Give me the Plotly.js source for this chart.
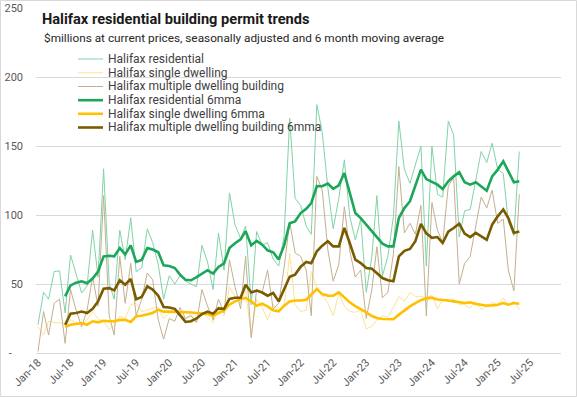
<!DOCTYPE html>
<html>
<head>
<meta charset="utf-8">
<script src="https://cdn.plot.ly/plotly-3.0.1.min.js"></script>
<style>
html,body{margin:0;padding:0;background:#fff;}
#chart{width:577px;height:397px;}
</style>
</head>
<body>
<div id="chart"></div>
<script>
var months = [
'2018-01-01','2018-02-01','2018-03-01','2018-04-01','2018-05-01','2018-06-01','2018-07-01','2018-08-01','2018-09-01','2018-10-01','2018-11-01','2018-12-01',
'2019-01-01','2019-02-01','2019-03-01','2019-04-01','2019-05-01','2019-06-01','2019-07-01','2019-08-01','2019-09-01','2019-10-01','2019-11-01','2019-12-01',
'2020-01-01','2020-02-01','2020-03-01','2020-04-01','2020-05-01','2020-06-01','2020-07-01','2020-08-01','2020-09-01','2020-10-01','2020-11-01','2020-12-01',
'2021-01-01','2021-02-01','2021-03-01','2021-04-01','2021-05-01','2021-06-01','2021-07-01','2021-08-01','2021-09-01','2021-10-01','2021-11-01','2021-12-01',
'2022-01-01','2022-02-01','2022-03-01','2022-04-01','2022-05-01','2022-06-01','2022-07-01','2022-08-01','2022-09-01','2022-10-01','2022-11-01','2022-12-01',
'2023-01-01','2023-02-01','2023-03-01','2023-04-01','2023-05-01','2023-06-01','2023-07-01','2023-08-01','2023-09-01','2023-10-01','2023-11-01','2023-12-01',
'2024-01-01','2024-02-01','2024-03-01','2024-04-01','2024-05-01','2024-06-01','2024-07-01','2024-08-01','2024-09-01','2024-10-01','2024-11-01','2024-12-01',
'2025-01-01','2025-02-01','2025-03-01','2025-04-01','2025-05-01'
];

var residential = [
20.5,44,39,59,59.5,29,71,57,43.5,48.5,89,55,
133.5,50.5,39,89,67.6,98,59,61.6,90,80,64,39,
56,50,56,52,50,48,78,66,46,87,60,116,
93,83,92,35,88,78,80,68,63,85,170,112,
107,92,86,180,160,120,90,112,140,99,82,97,
44,70,114,56,70,99,168,133,123,136,150,63,
150,115,113,168,158,84,103,104,126,146,138,152,
133,130,95,85,146
];
var single = [
19,13,23,22,22,20.5,24,22,20.5,24,30,25,
23,17,20,26.6,25,35,36,30,31.4,32.6,33,25,
29,30,29,25,28,23,29,26,22,34,27,48,
41,36,46,12,39,33,24,35,31,34,72,35,
30,31,59,48,42,36,27,43,34,30,29.5,31,
17.4,19.3,24,27,26,33,41,37.4,44,41,41,40,
42,32,38.6,37.4,39,35,35,32.6,37.4,31.4,33.8,36.7,
35,39.9,34.3,37.4,31.4
];
var multiple = [
1,30,13,36,39,7,46,31,19,31,55,34,
114,27,13,70,36,65,27,39,58,53,24,10,
25,23,33,25,27,22,46,34,24,39,29,67.6,
48,32,70,11,46,44,60,32,36,62,95,72.5,
70,60,27,128,118,75,52,64,106,74,55,60,
25,46,77,40,44,72,135,87,94,86,107,27,
109,89,80,121,127,50,65,70,92,113,105,118,
94,97,60,45,115
];
var residentialMA = [
null,null,null,null,null,41,49,51,52,50.5,54,59,
70,70.5,70,76,71.5,78,66,67.5,76,75,73,63.5,
63,61.6,56.8,53,52.7,55,57.5,60,57.5,62.3,65,76,
79.5,82.3,88.3,78,81.2,78.5,74.4,73,67.8,78,94,95.4,
101.4,104.5,108.7,121,120.8,122.7,119,121.5,130.4,116,101.4,97.8,
93,88,83.3,79.2,77.3,77.3,97.8,105,110,120.8,132.9,126,
124,122,118.8,124.4,128,131,123.7,122,123.7,120.8,117.6,128,
132.9,138.9,131.6,123.7,124.4
];
var singleMA = [
null,null,null,null,null,19,20.5,21,21.7,20.5,23,22.2,
23.4,23,23,24,24,22.5,26.6,27,27.8,29,31.4,30,
30,30,29.8,29.5,29.3,29,28.5,28.3,27,29,31,35,
37.4,39,40,37.4,34.3,35.7,33.8,31,30.2,34.3,37.4,38,
38,38.6,42.3,46.4,42.7,41.6,41.5,44,40.3,36.7,34,32,
29.4,26.8,25.4,24.6,24.5,24.5,27.8,31,33.8,36.2,38.3,39.6,
40.1,38.8,38.6,38,37.4,37,36.2,36.7,35.5,35,34.3,34.5,
35,36.2,35,36.2,35.7
];
var multipleMA = [
null,null,null,null,null,20.5,28.5,29,30,29,32,37.4,
46.6,47,45.4,52.7,49.5,53.6,39,40.6,48.3,46,41.5,33.3,
33,32,27.5,22.5,23,25,28.2,30,28.5,32.3,32,39.2,
40,40,49.5,43.8,45.2,43.8,41.5,43.5,37.4,46.7,55.2,56.8,
62.5,66,65,73.7,77.8,81,77.3,77.3,90.6,79.7,67.6,65.2,
61.6,61,58,54.3,52.7,52,70,74,75.4,81,93.5,86.7,
83.5,84,79.7,88,90.6,93.7,86.5,84,87,84.5,82,93,
99,104,97.8,87,88
];
var seriesNames = [
'Halifax residential',
'Halifax single dwelling',
'Halifax multiple dwelling building',
'Halifax residential 6mma',
'Halifax single dwelling 6mma',
'Halifax multiple dwelling building 6mma'
];
var tickDates = ['2018-01-01','2018-07-01','2019-01-01','2019-07-01','2020-01-01','2020-07-01','2021-01-01','2021-07-01','2022-01-01','2022-07-01','2023-01-01','2023-07-01','2024-01-01','2024-07-01','2025-01-01','2025-07-01'];
var tickLabels = ['Jan-18','Jul-18','Jan-19','Jul-19','Jan-20','Jul-20','Jan-21','Jul-21','Jan-22','Jul-22','Jan-23','Jul-23','Jan-24','Jul-24','Jan-25','Jul-25'];
var yTicks = [0,50,100,150,200,250];
var yLabels = ['-\u2002\u2002','50','100','150','200','250'];

var values = [residential, single, multiple, residentialMA, singleMA, multipleMA];
var colors = ['#80d3a6','#fde397','#c2b08e','#1ba65a','#ffc000','#7a5c00'];
var widths = [1,1,1,2.6,2.6,2.6];

var FONT = '"Liberation Sans Narrow", "Roboto", "Liberation Sans", sans-serif';

var traces = values.map(function(v,k){
  return {x: months, y: v, type:'scatter', mode:'lines', name: seriesNames[k],
    line:{color: colors[k], width: widths[k]}, connectgaps:false, showlegend:false, hoverinfo:'x+y'};
});

// legend (drawn as layout items)
var L = 36, PW = 525, T = 8, PH = 345;
function px2x(p){ return (p - L)/PW; }
function py2y(p){ return (T + PH - p)/PH; }
var legendRows = [59, 72.8, 86.5, 100.2, 113.8, 127.5];
var shapes = [];
var annotations = [];
seriesNames.forEach(function(n,k){
  var yy = py2y(legendRows[k]);
  shapes.push({type:'line', xref:'paper', yref:'paper', x0:px2x(78), x1:px2x(103), y0:yy, y1:yy,
    line:{color:colors[k], width: widths[k]===1?1:2.6}});
  annotations.push({xref:'paper', yref:'paper', x:px2x(106), y:yy, xanchor:'left', yanchor:'middle',
    text:n, showarrow:false, font:{family:FONT, size:12, color:'#404040'}});
});
annotations.push({xref:'paper', yref:'paper', x:px2x(42), y:py2y(38.5), xanchor:'left', yanchor:'middle',
  text:'$millions at current prices, seasonally adjusted and 6 month moving average', showarrow:false,
  font:{family:FONT, size:11.8, color:'#262626'}});
// outer border
shapes.push({type:'rect', xref:'paper', yref:'paper', x0:px2x(0.5), x1:px2x(576.5), y0:py2y(396.5), y1:py2y(0.5),
  line:{color:'#d9d9d9', width:1}, fillcolor:'rgba(0,0,0,0)'});

var layout = {
  width:577, height:397,
  margin:{l:L, r:577-L-PW, t:T, b:397-T-PH},
  paper_bgcolor:'#ffffff', plot_bgcolor:'#ffffff',
  font:{family:FONT, size:11, color:'#595959'},
  title:{text:'<b>Halifax residential building permit trends</b>', xref:'container', yref:'container',
    x:42/577, xanchor:'left', y:1-19/397, yanchor:'middle', font:{family:FONT, size:14.6, color:'#1a1a1a'}},
  xaxis:{type:'date', range:['2017-12-21','2025-12-19'], tickmode:'array', tickvals:tickDates, ticktext:tickLabels,
    tickangle:-45, showgrid:false, zeroline:false, showline:false, ticks:'', tickfont:{family:FONT, size:11, color:'#595959'}},
  yaxis:{range:[0,250], tickmode:'array', tickvals:yTicks, ticktext:yLabels, showgrid:true, gridcolor:'#d9d9d9', gridwidth:1,
    zeroline:true, zerolinecolor:'#d9d9d9', zerolinewidth:1, showline:false, ticks:'', ticklabelstandoff:12,
    tickfont:{family:FONT, size:11, color:'#595959'}},
  showlegend:false,
  shapes:shapes,
  annotations:annotations
};
Plotly.newPlot('chart', traces, layout, {staticPlot:true, displayModeBar:false});
</script>
</body>
</html>
